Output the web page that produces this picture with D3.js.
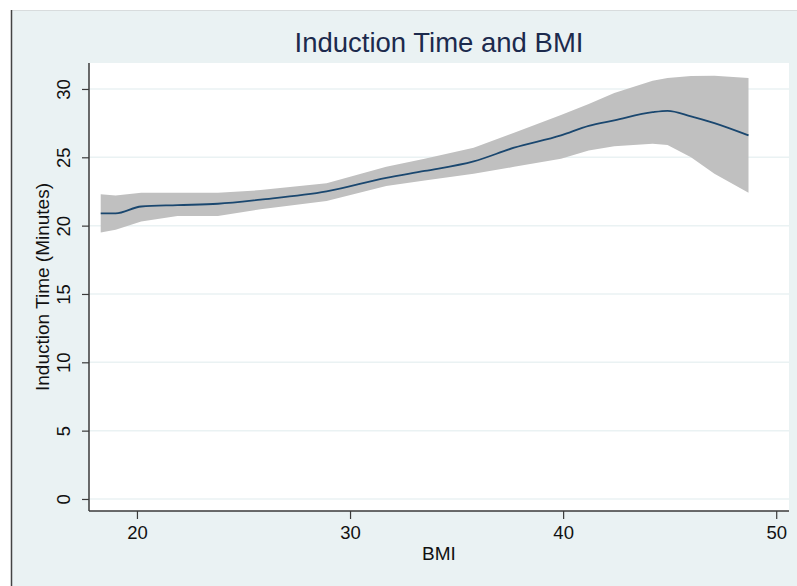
<!DOCTYPE html>
<html>
<head>
<meta charset="utf-8">
<script src="https://cdn.jsdelivr.net/npm/d3@7"></script>
<style>
  body { margin: 0; background: #fff; }
  text { font-family: "Liberation Sans", Arial, Helvetica, sans-serif; }
</style>
</head>
<body>
<div id="chart"></div>
<script>
// BMI (x), fitted induction time and its confidence band
const bmi   = [18.3, 19.0, 20.2, 21.9, 23.8, 25.8, 28.9, 31.7, 33.5, 35.8, 37.7, 39.9, 41.2, 42.4, 44.2, 44.9, 46.0, 47.1, 48.7];
const fit   = [20.9, 20.9, 21.4, 21.5, 21.6, 21.9, 22.5, 23.5, 24.0, 24.7, 25.7, 26.6, 27.3, 27.7, 28.3, 28.4, 28.0, 27.5, 26.6];
const upper = [22.3, 22.2, 22.4, 22.4, 22.4, 22.6, 23.1, 24.3, 24.9, 25.7, 26.8, 28.1, 28.9, 29.7, 30.6, 30.8, 30.95, 30.97, 30.8];
const lower = [19.5, 19.7, 20.3, 20.7, 20.7, 21.2, 21.8, 22.9, 23.3, 23.8, 24.3, 24.9, 25.5, 25.8, 26.0, 25.9, 25.0, 23.8, 22.4];

const xTicks = [20, 30, 40, 50];
const yTicks = [0, 5, 10, 15, 20, 25, 30];

const title = "Induction Time and BMI";
const xLabel = "BMI";
const yLabel = "Induction Time (Minutes)";

const W = 797, H = 586;
const margin = {top: 63, right: 8, bottom: 75, left: 89};
const width = W - margin.left - margin.right;
const height = H - margin.top - margin.bottom;

const data = bmi.map((d, i) => ({x: d, y: fit[i], lo: lower[i], hi: upper[i]}));

const svg = d3.select("#chart").append("svg")
  .attr("width", W)
  .attr("height", H);

// outer stata-style background
svg.append("rect")
  .attr("x", 11).attr("y", 10)
  .attr("width", W - 11).attr("height", H - 10)
  .attr("fill", "#eaf2f3");
svg.append("line")
  .attr("x1", 11).attr("x2", W).attr("y1", 10.5).attr("y2", 10.5)
  .attr("stroke", "#d8dcdd");
svg.append("line")
  .attr("x1", 11.5).attr("x2", 11.5).attr("y1", 10).attr("y2", H)
  .attr("stroke", "#444").attr("stroke-width", 1.5);

const g = svg.append("g")
  .attr("transform", "translate(" + margin.left + "," + margin.top + ")");

g.append("rect")
  .attr("width", width).attr("height", height)
  .attr("fill", "#fff");

const x = d3.scaleLinear()
  .domain([17.75, 50.6])
  .range([0, width]);
const y = d3.scaleLinear()
  .domain([-0.88, 31.9])
  .range([height, 0]);

// grid
g.selectAll(".grid")
  .data(yTicks)
  .enter().append("line")
  .attr("x1", 0).attr("x2", width)
  .attr("y1", d => y(d)).attr("y2", d => y(d))
  .attr("stroke", "#eaf2f3")
  .attr("stroke-width", 1.5);

// confidence band
const area = d3.area()
  .x(d => x(d.x))
  .y0(d => y(d.lo))
  .y1(d => y(d.hi));
g.append("path")
  .datum(data)
  .attr("d", area)
  .attr("fill", "#c0c0c0");

// fitted line
const line = d3.line()
  .x(d => x(d.x))
  .y(d => y(d.y))
  .curve(d3.curveMonotoneX);
g.append("path")
  .datum(data)
  .attr("d", line)
  .attr("fill", "none")
  .attr("stroke", "#1a476f")
  .attr("stroke-width", 1.8);

// axes
const xAxis = g.append("g")
  .attr("transform", "translate(0," + height + ")")
  .call(d3.axisBottom(x).tickValues(xTicks).tickSize(8).tickPadding(6).tickSizeOuter(0));
const yAxis = g.append("g")
  .call(d3.axisLeft(y).tickValues(yTicks).tickSize(7).tickSizeOuter(0));

[xAxis, yAxis].forEach(a => {
  a.select(".domain").attr("stroke", "#3a3a3a").attr("stroke-width", 1.5)
    .attr("d", a === xAxis ? "M0,0H" + width : "M0,0V" + height);
  a.selectAll(".tick line").attr("stroke", "#3a3a3a").attr("stroke-width", 1.2);
  a.selectAll(".tick text").attr("fill", "#111").style("font-size", "18.5px")
    .style("font-family", "'Liberation Sans', Arial, sans-serif");
});

xAxis.selectAll(".tick text").attr("dy", null).attr("y", 28);

// rotated y tick labels, stata style
yAxis.selectAll(".tick text")
  .attr("x", null).attr("dy", null)
  .attr("text-anchor", "middle")
  .attr("transform", "translate(-19,0) rotate(-90)");

// titles
svg.append("text")
  .attr("x", margin.left + width / 2)
  .attr("y", 52)
  .attr("text-anchor", "middle")
  .attr("fill", "#1c2a4d")
  .style("font-size", "27.5px")
  .text(title);

svg.append("text")
  .attr("x", margin.left + width / 2)
  .attr("y", 560)
  .attr("text-anchor", "middle")
  .attr("fill", "#111")
  .style("font-size", "19px")
  .text(xLabel);

svg.append("text")
  .attr("transform", "translate(49," + (margin.top + height / 2) + ") rotate(-90)")
  .attr("text-anchor", "middle")
  .attr("fill", "#111")
  .style("font-size", "19px")
  .text(yLabel);
</script>
</body>
</html>
